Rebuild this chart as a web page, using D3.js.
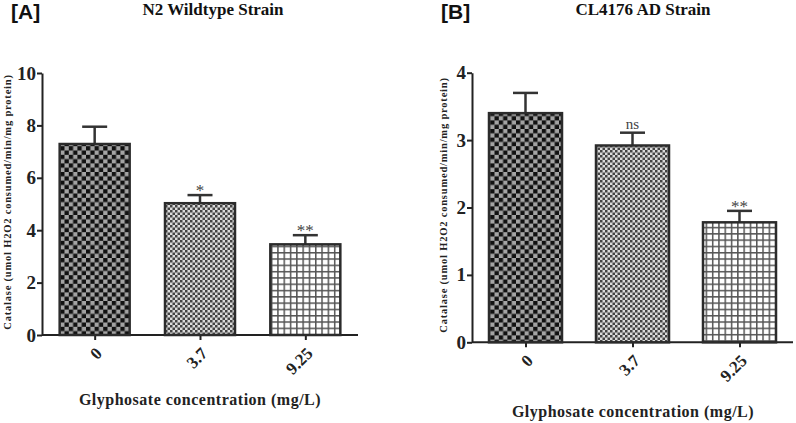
<!DOCTYPE html>
<html>
<head>
<meta charset="utf-8">
<script src="https://cdn.jsdelivr.net/npm/d3@7"></script>
<style>
  body { margin: 0; background: #fff; }
  svg { display: block; }
  .axis path, .axis line { stroke: #222; stroke-width: 2; }
</style>
</head>
<body>
<div id="chart"></div>
<script>
const groups = ["0", "3.7", "9.25"];

const wildtypeMeans = [7.29, 5.03, 3.46];
const wildtypeErrors = [0.66, 0.31, 0.35];
const wildtypeSignif = ["", "*", "**"];
const wildtypeTicks = [0, 2, 4, 6, 8, 10];

const adMeans = [3.4, 2.92, 1.78];
const adErrors = [0.3, 0.19, 0.17];
const adSignif = ["", "ns", "**"];
const adTicks = [0, 1, 2, 3, 4];

const serif = "'Liberation Serif', 'Times New Roman', serif";

const svg = d3
  .select("#chart")
  .append("svg")
  .attr("width", 796)
  .attr("height", 423);

// Fill patterns for the three bars
const defs = svg.append("defs");

const check = defs
  .append("pattern")
  .attr("id", "pat0")
  .attr("patternUnits", "userSpaceOnUse")
  .attr("width", 8.6)
  .attr("height", 8.6);
check.append("rect").attr("width", 8.6).attr("height", 8.6).attr("fill", "#a3a3a3");
check.append("rect").attr("width", 4.3).attr("height", 4.3).attr("fill", "#111");
check.append("rect").attr("x", 4.3).attr("y", 4.3).attr("width", 4.3).attr("height", 4.3).attr("fill", "#111");

const fine = defs
  .append("pattern")
  .attr("id", "pat1")
  .attr("patternUnits", "userSpaceOnUse")
  .attr("width", 5)
  .attr("height", 5);
fine.append("rect").attr("width", 5).attr("height", 5).attr("fill", "#dcdcdc");
fine.append("rect").attr("width", 2.5).attr("height", 2.5).attr("fill", "#444");
fine.append("rect").attr("x", 2.5).attr("y", 2.5).attr("width", 2.5).attr("height", 2.5).attr("fill", "#444");

const grid = defs
  .append("pattern")
  .attr("id", "pat2")
  .attr("patternUnits", "userSpaceOnUse")
  .attr("width", 6.3)
  .attr("height", 6.3);
grid.append("rect").attr("width", 6.3).attr("height", 6.3).attr("fill", "#fff");
grid.append("rect").attr("width", 1.5).attr("height", 6.3).attr("fill", "#555");
grid.append("rect").attr("width", 6.3).attr("height", 1.5).attr("fill", "#555");

class BarPanel {
  constructor(_config) {
    this.config = _config;
    this.drawVis();
  }

  drawVis() {
    const vis = this;
    const c = vis.config;
    const g = svg.append("g");

    vis.x = d3.scalePoint().domain(groups).range([c.left, c.right]).padding(0.5);
    vis.y = d3.scaleLinear().domain(c.domain).range([c.bottom, c.top]);

    // Y axis
    g.append("g")
      .attr("class", "axis")
      .attr("transform", `translate(${c.left},0)`)
      .call(
        d3
          .axisLeft(vis.y)
          .tickValues(c.ticks)
          .tickFormat(d3.format("d"))
          .tickSize(5)
          .tickSizeOuter(0)
          .tickPadding(1)
      )
      .attr("font-family", serif)
      .attr("font-weight", "bold")
      .attr("font-size", 19)
      .call((a) => a.selectAll("text").attr("fill", "#222"));

    // X axis
    g.append("g")
      .attr("class", "axis")
      .attr("transform", `translate(0,${c.bottom})`)
      .call(d3.axisBottom(vis.x).tickSize(5).tickSizeOuter(0).tickFormat(""))
      .call((a) => a.select(".domain").attr("d", `M${c.left},0H${c.right}`));

    // Rotated category labels
    g.selectAll("text.cat")
      .data(groups)
      .join("text")
      .attr("class", "cat")
      .attr("transform", (d) => `translate(${vis.x(d)},${c.bottom + 11}) rotate(-45)`)
      .attr("text-anchor", "end")
      .attr("dy", "0.7em")
      .attr("font-family", serif)
      .attr("font-weight", "bold")
      .attr("font-size", 17)
      .attr("fill", "#222")
      .text((d) => d);

    const data = groups.map((d, i) => ({
      group: d,
      mean: c.means[i],
      err: c.errors[i],
      sig: c.signif[i],
      fill: `url(#pat${i})`,
    }));

    // Error bars (drawn first so the bar outline sits on top)
    g.selectAll("line.err")
      .data(data)
      .join("line")
      .attr("class", "err")
      .attr("x1", (d) => vis.x(d.group))
      .attr("x2", (d) => vis.x(d.group))
      .attr("y1", (d) => vis.y(d.mean))
      .attr("y2", (d) => vis.y(d.mean + d.err))
      .attr("stroke", "#333")
      .attr("stroke-width", 2.5);

    g.selectAll("line.cap")
      .data(data)
      .join("line")
      .attr("class", "cap")
      .attr("x1", (d) => vis.x(d.group) - 12.5)
      .attr("x2", (d) => vis.x(d.group) + 12.5)
      .attr("y1", (d) => vis.y(d.mean + d.err))
      .attr("y2", (d) => vis.y(d.mean + d.err))
      .attr("stroke", "#333")
      .attr("stroke-width", 2.5);

    // Bars
    g.selectAll("rect.bar")
      .data(data)
      .join("rect")
      .attr("class", "bar")
      .attr("x", (d) => vis.x(d.group) - c.barWidth / 2)
      .attr("width", c.barWidth)
      .attr("y", (d) => vis.y(d.mean))
      .attr("height", (d) => vis.y(0) - vis.y(d.mean))
      .attr("fill", (d) => d.fill)
      .attr("stroke", "#2b2b2b")
      .attr("stroke-width", 2.5);

    // Significance marks
    g.selectAll("text.sig")
      .data(data)
      .join("text")
      .attr("class", "sig")
      .attr("x", (d) => vis.x(d.group))
      .attr("y", (d) => vis.y(d.mean + d.err) + (d.sig === "ns" ? -4 : 1))
      .attr("text-anchor", "middle")
      .attr("font-family", serif)
      .attr("font-size", (d) => (d.sig === "ns" ? 15 : 17))
      .attr("fill", "#444")
      .text((d) => d.sig);

    // Y axis label
    g.append("text")
      .attr("transform", `translate(${c.yLabelX},${c.yLabelY}) rotate(-90)`)
      .attr("text-anchor", "middle")
      .attr("font-family", serif)
      .attr("font-weight", "bold")
      .attr("font-size", 10.5)
      .attr("letter-spacing", 0.8)
      .attr("fill", "#222")
      .text("Catalase (umol H2O2 consumed/min/mg protein)");

    // X axis title
    g.append("text")
      .attr("x", c.xTitleX)
      .attr("y", c.xTitleY)
      .attr("text-anchor", "middle")
      .attr("font-family", serif)
      .attr("font-weight", "bold")
      .attr("font-size", 16)
      .attr("letter-spacing", 0.5)
      .attr("fill", "#222")
      .text("Glyphosate concentration (mg/L)");

    // Panel title
    g.append("text")
      .attr("x", c.titleX)
      .attr("y", 15)
      .attr("text-anchor", "middle")
      .attr("font-family", serif)
      .attr("font-weight", "bold")
      .attr("font-size", 17)
      .attr("fill", "#111")
      .text(c.title);

    // Panel letter
    g.append("text")
      .attr("x", c.letterX)
      .attr("y", 19)
      .attr("font-family", "'Liberation Sans', Arial, sans-serif")
      .attr("font-weight", "bold")
      .attr("font-size", 21)
      .attr("fill", "#111")
      .text(c.letter);
  }
}

new BarPanel({
  left: 42,
  right: 358,
  top: 73,
  bottom: 335,
  domain: [0, 10],
  ticks: wildtypeTicks,
  means: wildtypeMeans,
  errors: wildtypeErrors,
  signif: wildtypeSignif,
  barWidth: 70,
  yLabelX: 11,
  yLabelY: 202,
  xTitleX: 200,
  xTitleY: 405,
  title: "N2 Wildtype Strain",
  titleX: 213,
  letter: "[A]",
  letterX: 11,
});

new BarPanel({
  left: 472,
  right: 793,
  top: 72.7,
  bottom: 342.3,
  domain: [0, 4],
  ticks: adTicks,
  means: adMeans,
  errors: adErrors,
  signif: adSignif,
  barWidth: 73,
  yLabelX: 447,
  yLabelY: 205,
  xTitleX: 633,
  xTitleY: 417,
  title: "CL4176 AD Strain",
  titleX: 643,
  letter: "[B]",
  letterX: 441,
});
</script>
</body>
</html>
